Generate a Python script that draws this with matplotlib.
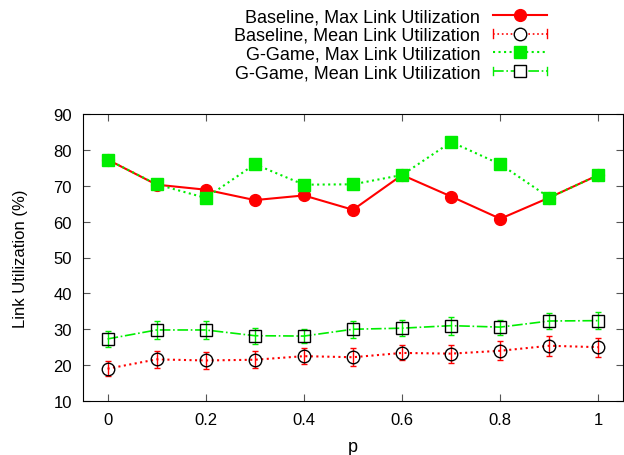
import matplotlib
matplotlib.use("Agg")
import matplotlib.pyplot as plt
from matplotlib.lines import Line2D
from matplotlib.legend_handler import HandlerLine2D

plt.rcParams['font.family'] = ['Liberation Sans', 'DejaVu Sans']

# data
p = [0.0, 0.1, 0.2, 0.3, 0.4, 0.5, 0.6, 0.7, 0.8, 0.9, 1.0]
base_max = [77.3, 70.3, 68.9, 66.0, 67.3, 63.3, 73.0, 67.0, 60.8, 66.7, 73.0]
game_max = [77.3, 70.4, 66.6, 76.0, 70.3, 70.4, 73.0, 82.2, 76.0, 66.7, 73.0]
base_mean = [19.0, 21.6, 21.3, 21.5, 22.5, 22.2, 23.4, 23.2, 24.0, 25.4, 25.0]
base_err = [2.1, 2.4, 2.3, 2.4, 2.3, 2.5, 2.1, 2.5, 2.7, 2.8, 2.7]
game_mean = [27.3, 29.8, 29.8, 28.2, 28.1, 30.0, 30.3, 31.0, 30.6, 32.3, 32.4]
game_err = [2.2, 2.6, 2.6, 2.2, 2.0, 2.4, 2.3, 2.5, 2.1, 2.3, 2.4]

labels = ["Baseline, Max Link Utilization",
          "Baseline, Mean Link Utilization",
          "G-Game, Max Link Utilization",
          "G-Game, Mean Link Utilization"]

GREEN = '#00ee00'


class HandlerCapped(HandlerLine2D):
    """legend line with small end caps, like gnuplot errorlines"""
    def create_artists(self, legend, orig_handle, xdescent, ydescent,
                       width, height, fontsize, trans):
        artists = super().create_artists(legend, orig_handle, xdescent,
                                         ydescent, width, height, fontsize,
                                         trans)
        y = height / 2 - ydescent
        for x in (-xdescent, width - xdescent):
            cap = Line2D([x, x], [y - 3, y + 3], color=orig_handle.get_color(),
                         lw=1, transform=trans)
            artists.append(cap)
        return artists


fig = plt.figure(figsize=(6.24, 4.56), dpi=100)
ax = fig.add_axes([83 / 624, 1 - 402 / 456, 540 / 624, 287 / 456])

# baseline max
ax.plot(p, base_max, color='red', lw=1.5, marker='o', ms=8.5, zorder=3)
# baseline mean with error bars
ax.errorbar(p, base_mean, yerr=base_err, color='red', ls=':', lw=1.5,
            capsize=2.5, elinewidth=1, marker='o', ms=9, mfc='none',
            mec='black', mew=1.0, zorder=3)
# g-game max
ax.plot(p, game_max, color=GREEN, lw=1.5, ls=':', marker='s', ms=9,
        zorder=4)
# g-game mean with error bars
ax.errorbar(p, game_mean, yerr=game_err, color=GREEN, ls='-.', lw=1.2,
            capsize=2.5, elinewidth=1, marker='s', ms=9, mfc='none',
            mec='black', mew=1.0, zorder=4)

ax.set_xlim(-0.05, 1.05)
ax.set_ylim(10, 90)
ax.set_xticks([0, 0.2, 0.4, 0.6, 0.8, 1])
ax.set_xticklabels(['0', '0.2', '0.4', '0.6', '0.8', '1'])
ax.set_yticks(range(10, 91, 10))
ax.tick_params(direction='in', top=True, right=True, length=5,
               labelsize=12, pad=8, color='#555555')
ax.set_xlabel('p', fontsize=13, labelpad=8)
ax.set_ylabel('Link Utilization (%)', fontsize=12, labelpad=18)

handles = [
    Line2D([], [], color='red', lw=1.5, marker='o', ms=8.5),
    Line2D([], [], color='red', lw=1.2, ls=':', marker='o', ms=9,
           mfc='white', mec='black'),
    Line2D([], [], color=GREEN, lw=1.5, ls=':', marker='s', ms=9),
    Line2D([], [], color=GREEN, lw=1.2, ls='-.', marker='s', ms=9,
           mfc='white', mec='black'),
]
fig.legend(handles, labels, loc='upper right', bbox_to_anchor=(556 / 624, 1.0),
           frameon=False, markerfirst=False, fontsize=13, handlelength=3.0,
           labelspacing=0.1, borderaxespad=0.1, handletextpad=0.7,
           handler_map={handles[1]: HandlerCapped(),
                        handles[3]: HandlerCapped()})

fig.savefig('out.png', dpi=100)
